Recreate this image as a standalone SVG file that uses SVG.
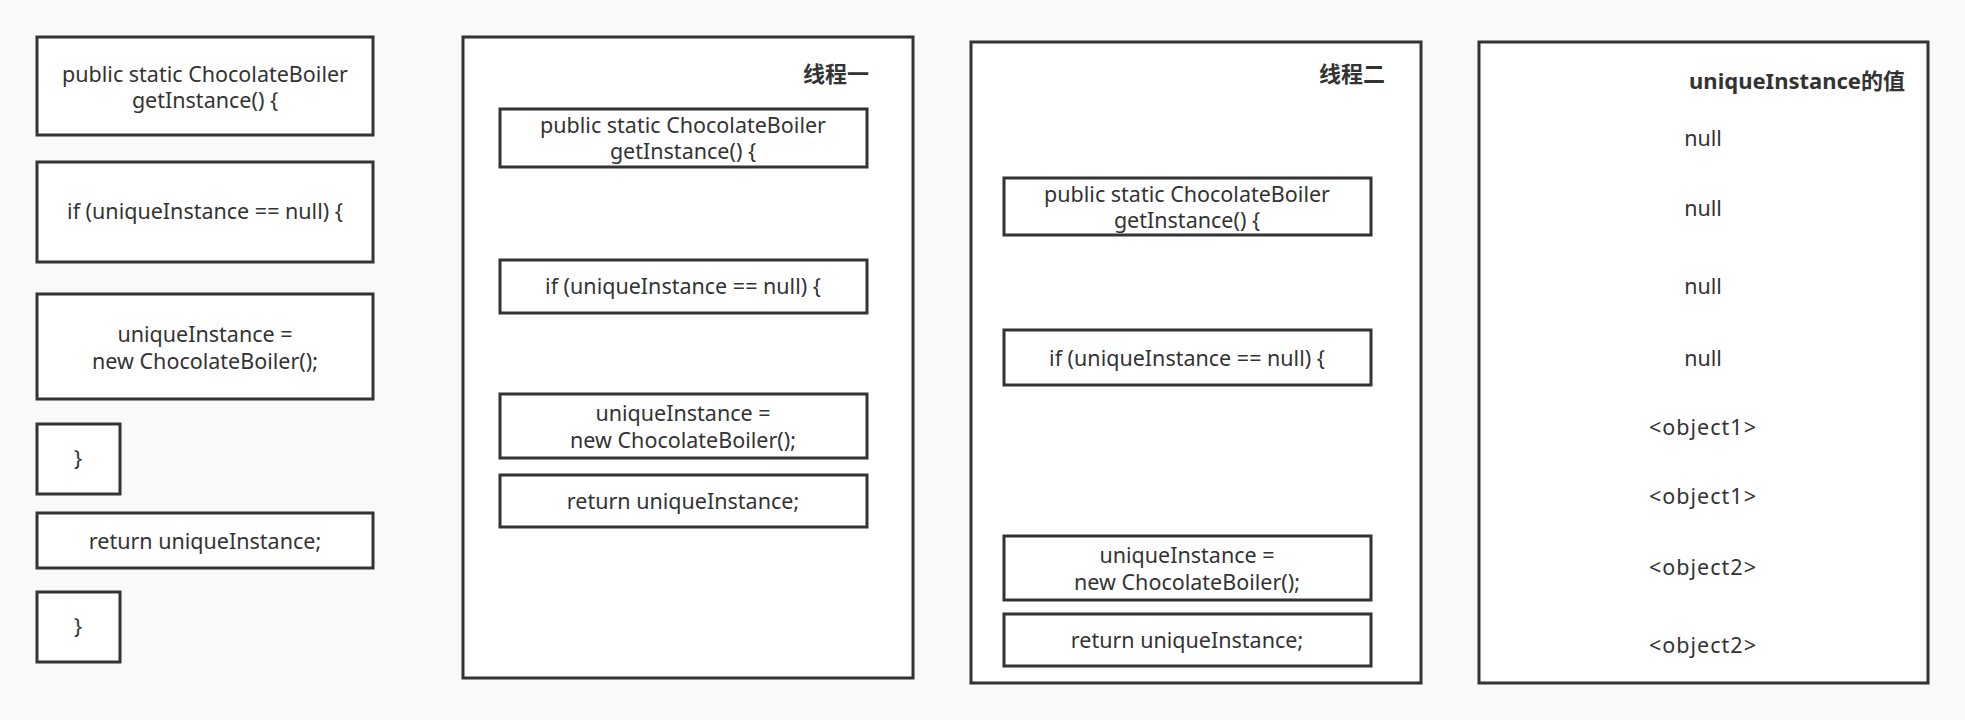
<svg xmlns="http://www.w3.org/2000/svg" width="1965" height="720" viewBox="0 0 1965 720">
<style>
.bx{fill:#fff;stroke:#333;stroke-width:3}
.t{font-family:"Noto Sans","Noto Sans CJK SC",sans-serif;font-size:21.5px;fill:#333;text-anchor:middle}
.o{letter-spacing:1px}
.h{font-family:"Noto Sans","Noto Sans CJK SC",sans-serif;font-size:22px;font-weight:bold;fill:#333;text-anchor:end}
</style>
<rect width="1965" height="720" fill="#f9f9f9"/>
<g id="code">
<g id="c1"><rect class="bx" x="37" y="37" width="336" height="98"/><text class="t" x="205" y="82">public static ChocolateBoiler<tspan x="205" dy="26">getInstance() {</tspan></text></g>
<g id="c2"><rect class="bx" x="37" y="162" width="336" height="100"/><text class="t" x="205" y="219">if (uniqueInstance == null) {</text></g>
<g id="c3"><rect class="bx" x="37" y="294" width="336" height="105"/><text class="t" x="205" y="342">uniqueInstance =<tspan x="205" dy="26.5">new ChocolateBoiler();</tspan></text></g>
<g id="c4"><rect class="bx" x="37" y="424" width="83" height="70"/><text class="t" x="78" y="466">}</text></g>
<g id="c5"><rect class="bx" x="37" y="513" width="336" height="55"/><text class="t" x="205" y="549">return uniqueInstance;</text></g>
<g id="c6"><rect class="bx" x="37" y="592" width="83" height="70"/><text class="t" x="78" y="634">}</text></g>
</g>
<g id="thread1">
<rect class="bx" x="463" y="37" width="450" height="641"/>
<text class="h" x="869" y="82">线程一</text>
<g id="t1a"><rect class="bx" x="500" y="109" width="367" height="58"/><text class="t" x="683" y="133">public static ChocolateBoiler<tspan x="683" dy="26">getInstance() {</tspan></text></g>
<g id="t1b"><rect class="bx" x="500" y="260" width="367" height="53"/><text class="t" x="683" y="294">if (uniqueInstance == null) {</text></g>
<g id="t1c"><rect class="bx" x="500" y="394" width="367" height="64"/><text class="t" x="683" y="421">uniqueInstance =<tspan x="683" dy="26.5">new ChocolateBoiler();</tspan></text></g>
<g id="t1d"><rect class="bx" x="500" y="475" width="367" height="52"/><text class="t" x="683" y="509">return uniqueInstance;</text></g>
</g>
<g id="thread2">
<rect class="bx" x="971" y="42" width="450" height="641"/>
<text class="h" x="1385" y="82">线程二</text>
<g id="t2a"><rect class="bx" x="1004" y="178" width="367" height="57"/><text class="t" x="1187" y="202">public static ChocolateBoiler<tspan x="1187" dy="26">getInstance() {</tspan></text></g>
<g id="t2b"><rect class="bx" x="1004" y="330" width="367" height="55"/><text class="t" x="1187" y="366">if (uniqueInstance == null) {</text></g>
<g id="t2c"><rect class="bx" x="1004" y="536" width="367" height="64"/><text class="t" x="1187" y="563">uniqueInstance =<tspan x="1187" dy="26.5">new ChocolateBoiler();</tspan></text></g>
<g id="t2d"><rect class="bx" x="1004" y="614" width="367" height="52"/><text class="t" x="1187" y="648">return uniqueInstance;</text></g>
</g>
<g id="values">
<rect class="bx" x="1479" y="42" width="449" height="641"/>
<text class="h" x="1905" y="89">uniqueInstance的值</text>
<text class="t" x="1703" y="146">null</text>
<text class="t" x="1703" y="216">null</text>
<text class="t" x="1703" y="294">null</text>
<text class="t" x="1703" y="366">null</text>
<text class="t o" x="1703" y="435">&lt;object1&gt;</text>
<text class="t o" x="1703" y="504">&lt;object1&gt;</text>
<text class="t o" x="1703" y="575">&lt;object2&gt;</text>
<text class="t o" x="1703" y="653">&lt;object2&gt;</text>
</g>
<g id="connectors"/>
</svg>
